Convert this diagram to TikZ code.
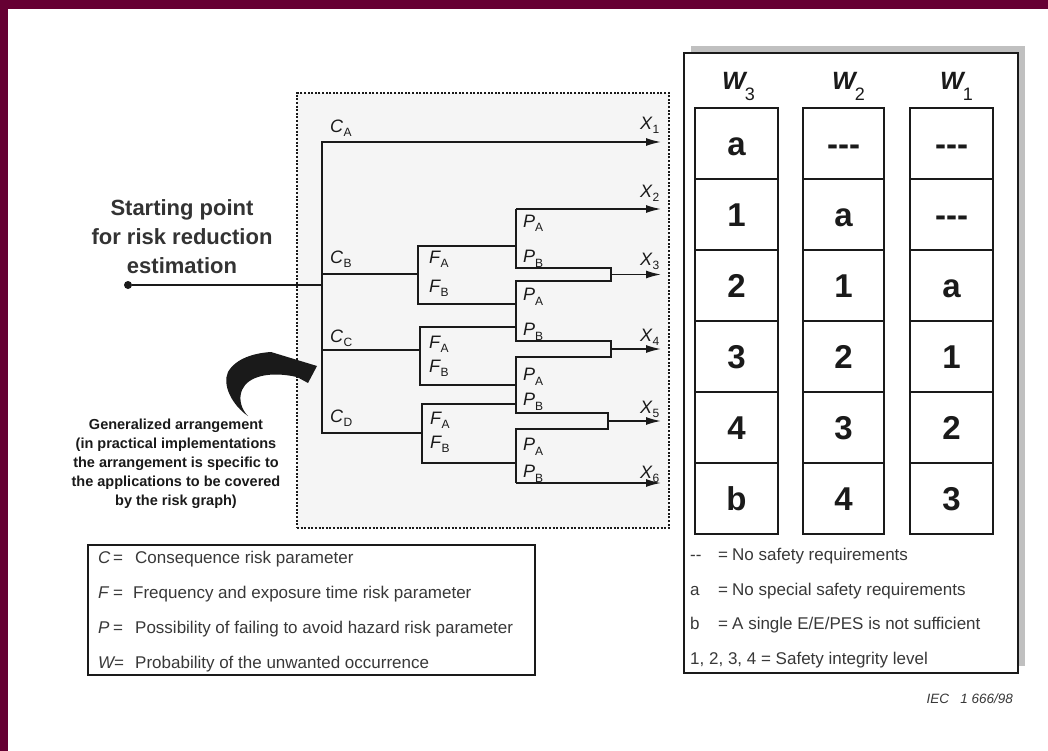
\documentclass[tikz,border=0pt]{standalone}
\usepackage{fontspec}
\setmainfont{Liberation Sans}
\usetikzlibrary{arrows.meta}

\definecolor{framecol}{HTML}{660033}
\definecolor{boxfill}{HTML}{F5F5F5}
\definecolor{ink}{HTML}{1A1A1A}
\definecolor{legink}{HTML}{383838}
\definecolor{shadowgray}{HTML}{C0C0C0}

\newcommand{\fsz}[2]{\fontsize{#1}{#2}\selectfont}
% risk-parameter label: italic letter with an upright subscript
\newcommand{\tlab}[2]{{\fsz{18}{18}\itshape #1}\kern0.5pt\raisebox{-4pt}{\fsz{12}{12}#2}}
\newcommand{\plab}[1]{{\fsz{18}{18}\itshape P}\kern0pt\raisebox{-5pt}{\fsz{12}{12}#1}}
\newcommand{\wlab}[1]{{\fsz{25}{25}\bfseries\itshape W}\kern-1pt\raisebox{-11pt}{\fsz{18}{18}#1}}

\begin{document}
\begin{tikzpicture}[x=1pt,y=-1pt,
  branch/.style={line width=1.6pt, draw=ink, line join=miter},
  outarrow/.style={branch, -{Latex[length=15pt,width=8pt]}},
  lab/.style={anchor=base west, inner sep=0pt, text=ink},
  cell/.style={draw=ink, line width=1.4pt, minimum height=71pt, inner sep=0pt,
    text height=24pt, text depth=0pt, font=\fsz{33}{33}\bfseries, text=ink},
  legline/.style={anchor=base west, inner sep=0pt, text=legink, font=\fsz{17}{18}},
]
\useasboundingbox (0,0) rectangle (1048,751);

% page background and coloured frame
\fill[white] (0,0) rectangle (1048,751);
\fill[framecol] (0,0) rectangle (1048,9);
\fill[framecol] (0,0) rectangle (8,751);

% dotted area holding the generalized risk graph
\node[draw=ink, fill=boxfill, line width=1.6pt, dash pattern=on 2pt off 1.6pt,
      minimum width=372pt, minimum height=435pt, inner sep=0pt] (arrbox) at (483,310.5) {};

% starting point (anchor base = baseline of the last line)
\node[circle, fill=ink, minimum size=8pt, inner sep=0pt] (start) at (128,285) {};
\node[align=center, inner sep=0pt, anchor=base, text=black!80, font=\fsz{22}{29}\bfseries]
  (starttxt) at (182,273) {Starting point\\for risk reduction\\estimation};

% junction points of the tree
\coordinate (jA) at (322,142);
\coordinate (jB) at (322,274);
\coordinate (j0) at (322,285);
\coordinate (jC) at (322,350);
\coordinate (jD) at (322,433);
\coordinate (fB) at (418,274); \coordinate (fBa) at (418,246); \coordinate (fBb) at (418,304);
\coordinate (fC) at (420,350); \coordinate (fCa) at (420,327); \coordinate (fCb) at (420,385);
\coordinate (fD) at (422,433); \coordinate (fDa) at (422,404); \coordinate (fDb) at (422,463);
\coordinate (pBa) at (516,246); \coordinate (pBb) at (516,304);
\coordinate (pCa) at (516,327); \coordinate (pCb) at (516,385);
\coordinate (pDa) at (516,404); \coordinate (pDb) at (516,463);
\coordinate (p1t) at (516,209); \coordinate (p1b) at (516,268);
\coordinate (p2t) at (516,281); \coordinate (p2b) at (516,341);
\coordinate (p3t) at (516,357); \coordinate (p3b) at (516,413);
\coordinate (p4t) at (516,429); \coordinate (p4b) at (516,483);
\coordinate (m3a) at (611,268); \coordinate (m3b) at (611,281); \coordinate (m3) at (611,274.5);
\coordinate (m4a) at (611,341); \coordinate (m4b) at (611,357); \coordinate (m4) at (611,349);
\coordinate (m5a) at (608,413); \coordinate (m5b) at (608,429); \coordinate (m5) at (608,421);
\coordinate (t1) at (661,142); \coordinate (t2) at (661,209); \coordinate (t3) at (661,274.5);
\coordinate (t4) at (661,349); \coordinate (t5) at (661,421); \coordinate (t6) at (661,483);

% branches
\draw[branch] (start) -- (j0);
\draw[outarrow] (fD) -- (jD) -- (jA) -- (t1);
\draw[branch] (jB) -- (fB);
\draw[branch] (jC) -- (fC);
\draw[branch] (pBa) -- (fBa) -- (fBb) -- (pBb);
\draw[branch] (pCa) -- (fCa) -- (fCb) -- (pCb);
\draw[branch] (pDa) -- (fDa) -- (fDb) -- (pDb);
\draw[branch] (p1t) -- (p1b) -- (m3a) -- (m3b) -- (p2t) -- (p2b) -- (m4a) -- (m4b)
  -- (p3t) -- (p3b) -- (m5a) -- (m5b) -- (p4t) -- (p4b);
\draw[outarrow] (p1t) -- (t2);
\draw[outarrow] (m3) -- (t3);
\draw[outarrow] (m4) -- (t4);
\draw[outarrow] (m5) -- (t5);
\draw[outarrow] (p4b) -- (t6);

% branch labels
\node[lab] (lCA) at (330,133) {\tlab{C}{A}};
\node[lab] (lCB) at (330,263) {\tlab{C}{B}};
\node[lab] (lCC) at (330,342) {\tlab{C}{C}};
\node[lab] (lCD) at (330,422) {\tlab{C}{D}};
\node[lab] (lFA1) at (429,263) {\tlab{F}{A}};
\node[lab] (lFB1) at (429,292) {\tlab{F}{B}};
\node[lab] (lFA2) at (429,348) {\tlab{F}{A}};
\node[lab] (lFB2) at (429,372) {\tlab{F}{B}};
\node[lab] (lFA3) at (430,424) {\tlab{F}{A}};
\node[lab] (lFB3) at (430,448) {\tlab{F}{B}};
\node[lab] (lPA1) at (523,227) {\plab{A}};
\node[lab] (lPB1) at (523,262) {\plab{B}};
\node[lab] (lPA2) at (523,300) {\plab{A}};
\node[lab] (lPB2) at (523,335) {\plab{B}};
\node[lab] (lPA3) at (523,380) {\plab{A}};
\node[lab] (lPB3) at (523,405) {\plab{B}};
\node[lab] (lPA4) at (523,450) {\plab{A}};
\node[lab] (lPB4) at (523,477) {\plab{B}};
\node[lab] (lX1) at (640,130) {\tlab{X}{1}};
\node[lab] (lX2) at (640,198) {\tlab{X}{2}};
\node[lab] (lX3) at (640,265) {\tlab{X}{3}};
\node[lab] (lX4) at (640,341) {\tlab{X}{4}};
\node[lab] (lX5) at (640,413) {\tlab{X}{5}};
\node[lab] (lX6) at (640,478) {\tlab{X}{6}};

% explanatory note and the curved pointer towards the tree
\node[align=center, inner sep=0pt, anchor=base, text=ink, font=\fsz{14.5}{19}\bfseries]
  (gentxt) at (176,505) {Generalized arrangement\\(in practical implementations\\the arrangement is specific to\\the applications to be covered\\by the risk graph)};
\fill[ink] (248,416) .. controls (232,405) and (222,385) .. (228,372)
  .. controls (236,358) and (255,353) .. (271,352) -- (317,366) -- (308,383) -- (297,377)
  .. controls (270,371) and (248,376) .. (242,390)
  .. controls (238,400) and (242,410) .. (248,416) -- cycle;

% parameter legend
\node[draw=ink, line width=1.5pt, minimum width=447pt, minimum height=130pt, inner sep=0pt]
  (legend) at (311.5,610) {};
\node[legline] (legC) at (98,563) {\makebox[15pt][l]{\itshape C}\makebox[22pt][l]{=}Consequence risk parameter};
\node[legline] (legF) at (98,598) {\makebox[15pt][l]{\itshape F}\makebox[20pt][l]{=}Frequency and exposure time risk parameter};
\node[legline] (legP) at (98,633) {\makebox[15pt][l]{\itshape P}\makebox[22pt][l]{=}Possibility of failing to avoid hazard risk parameter};
\node[legline] (legW) at (98,668) {\makebox[16pt][l]{\itshape W}\makebox[21pt][l]{=}Probability of the unwanted occurrence};

% W table with its shadow
\fill[shadowgray] (691,46) rectangle (1025,666);
\node[draw=ink, fill=white, line width=2pt, minimum width=334pt, minimum height=620pt, inner sep=0pt]
  (wbox) at (851,363) {};

\node[lab] (hW3) at (722,90) {\wlab{3}};
\node[lab] (hW2) at (832,90) {\wlab{2}};
\node[lab] (hW1) at (940,90) {\wlab{1}};

% column W3
\node[cell, minimum width=83pt] (a1) at (736.5,143.5) {a};
\node[cell, minimum width=83pt] (a2) at (736.5,214.5) {1};
\node[cell, minimum width=83pt] (a3) at (736.5,285.5) {2};
\node[cell, minimum width=83pt] (a4) at (736.5,356.5) {3};
\node[cell, minimum width=83pt] (a5) at (736.5,427.5) {4};
\node[cell, minimum width=83pt] (a6) at (736.5,498.5) {b};
% column W2
\node[cell, minimum width=81pt] (b1) at (843.5,143.5) {-{}-{}-};
\node[cell, minimum width=81pt] (b2) at (843.5,214.5) {a};
\node[cell, minimum width=81pt] (b3) at (843.5,285.5) {1};
\node[cell, minimum width=81pt] (b4) at (843.5,356.5) {2};
\node[cell, minimum width=81pt] (b5) at (843.5,427.5) {3};
\node[cell, minimum width=81pt] (b6) at (843.5,498.5) {4};
% column W1
\node[cell, minimum width=83pt] (c1) at (951.5,143.5) {-{}-{}-};
\node[cell, minimum width=83pt] (c2) at (951.5,214.5) {-{}-{}-};
\node[cell, minimum width=83pt] (c3) at (951.5,285.5) {a};
\node[cell, minimum width=83pt] (c4) at (951.5,356.5) {1};
\node[cell, minimum width=83pt] (c5) at (951.5,427.5) {2};
\node[cell, minimum width=83pt] (c6) at (951.5,498.5) {3};

% table legend
\node[legline] (kdash) at (690,560) {\makebox[28pt][l]{-{}-}\makebox[14pt][l]{=}No safety requirements};
\node[legline] (ka) at (690,595) {\makebox[28pt][l]{a}\makebox[14pt][l]{=}No special safety requirements};
\node[legline] (kb) at (690,629) {\makebox[28pt][l]{b}\makebox[14pt][l]{=}A single E/E/PES is not sufficient};
\node[legline] (ksil) at (690,664) {1, 2, 3, 4 = Safety integrity level};

% figure reference
\node[anchor=base east, inner sep=0pt, text=legink, font=\fsz{13.5}{14}\itshape]
  (ref) at (1013,703) {IEC\ \ \ 1 666/98};
\end{tikzpicture}
\end{document}
